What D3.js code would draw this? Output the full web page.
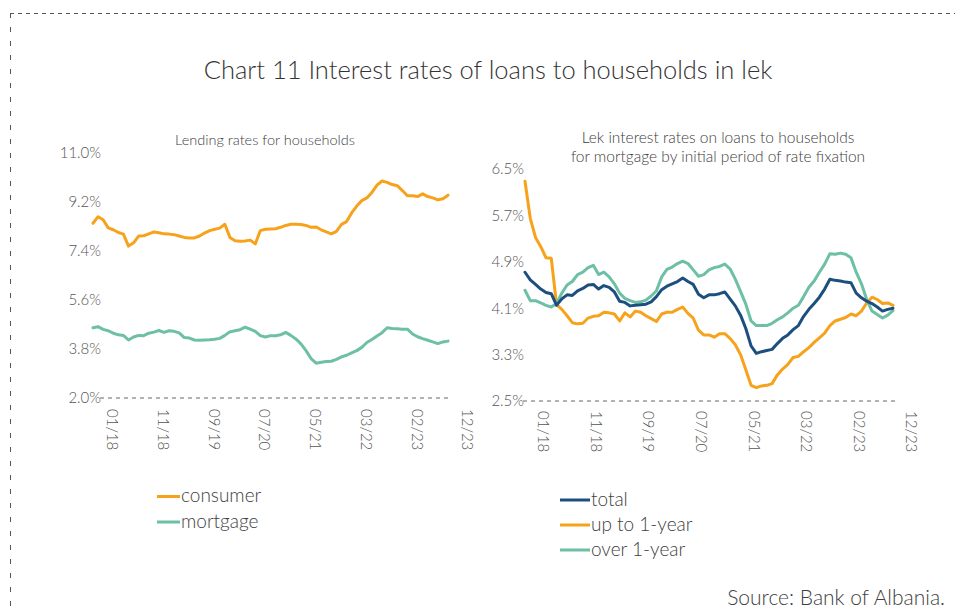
<!DOCTYPE html>
<html>
<head>
<meta charset="utf-8">
<script src="https://cdn.jsdelivr.net/npm/d3@7"></script>
<style>
  html, body { margin: 0; padding: 0; background: #fff; }
  svg text { font-family: Lato, "Open Sans", sans-serif; font-weight: 300; fill: #404040; }
</style>
</head>
<body>
<svg id="chart" width="955" height="612"></svg>
<script>
// Monthly observations, 71 points from 01/18 to 12/23
const tickIndex = [0, 10, 20, 30, 40, 50, 60, 70];
const tickLabels = ["01/18", "11/18", "09/19", "07/20", "05/21", "03/22", "02/23", "12/23"];

// Left panel: lending rates for households (%)
const consumer = [8.42, 8.66, 8.55, 8.25, 8.18, 8.08, 8.02, 7.58, 7.70, 7.95,
  7.96, 8.03, 8.10, 8.07, 8.03, 8.02, 8.00, 7.95, 7.90, 7.88,
  7.88, 7.95, 8.06, 8.15, 8.20, 8.24, 8.38, 7.90, 7.78, 7.76,
  7.77, 7.80, 7.66, 8.15, 8.20, 8.21, 8.22, 8.27, 8.34, 8.38,
  8.38, 8.37, 8.34, 8.27, 8.28, 8.18, 8.10, 8.03, 8.12, 8.38,
  8.48, 8.80, 9.05, 9.25, 9.35, 9.55, 9.82, 9.97, 9.92, 9.84,
  9.80, 9.62, 9.43, 9.43, 9.40, 9.50, 9.40, 9.35, 9.28, 9.32, 9.45];
const mortgage = [4.58, 4.62, 4.52, 4.47, 4.38, 4.32, 4.30, 4.13, 4.24, 4.30,
  4.29, 4.38, 4.42, 4.48, 4.41, 4.47, 4.45, 4.39, 4.22, 4.20,
  4.13, 4.12, 4.13, 4.14, 4.16, 4.19, 4.30, 4.43, 4.47, 4.51,
  4.60, 4.53, 4.45, 4.29, 4.24, 4.29, 4.29, 4.32, 4.41, 4.30,
  4.17, 3.99, 3.74, 3.45, 3.28, 3.31, 3.34, 3.35, 3.42, 3.51,
  3.57, 3.66, 3.74, 3.86, 4.04, 4.15, 4.28, 4.40, 4.58, 4.55,
  4.54, 4.53, 4.53, 4.35, 4.25, 4.18, 4.12, 4.06, 4.00, 4.06, 4.09];

// Right panel: mortgage rates by initial period of rate fixation (%)
const total = [4.72, 4.59, 4.51, 4.43, 4.37, 4.35, 4.15, 4.26, 4.33, 4.32,
  4.40, 4.44, 4.50, 4.51, 4.43, 4.49, 4.46, 4.38, 4.22, 4.20,
  4.14, 4.15, 4.16, 4.17, 4.21, 4.30, 4.42, 4.48, 4.52, 4.56,
  4.62, 4.56, 4.51, 4.34, 4.28, 4.33, 4.33, 4.35, 4.38, 4.26,
  4.14, 3.98, 3.75, 3.45, 3.32, 3.35, 3.37, 3.39, 3.49, 3.58,
  3.64, 3.73, 3.80, 3.96, 4.08, 4.18, 4.29, 4.43, 4.60, 4.58,
  4.57, 4.55, 4.54, 4.36, 4.28, 4.22, 4.18, 4.12, 4.05, 4.08, 4.10];
const upTo1Year = [6.29, 5.65, 5.32, 5.16, 4.97, 4.96, 4.16, 4.08, 3.97, 3.85,
  3.83, 3.84, 3.93, 3.96, 3.97, 4.03, 4.02, 4.00, 3.88, 4.02,
  3.95, 4.05, 4.03, 3.97, 3.92, 3.87, 4.00, 4.03, 4.03, 4.08,
  4.12, 4.01, 3.93, 3.72, 3.64, 3.64, 3.60, 3.66, 3.66, 3.58,
  3.47, 3.30, 3.04, 2.77, 2.73, 2.76, 2.77, 2.80, 2.95, 3.05,
  3.13, 3.25, 3.27, 3.35, 3.42, 3.51, 3.59, 3.67, 3.80, 3.88,
  3.91, 3.94, 4.00, 3.97, 4.05, 4.19, 4.29, 4.25, 4.18, 4.19, 4.15];
const over1Year = [4.41, 4.23, 4.23, 4.19, 4.15, 4.12, 4.18, 4.36, 4.50, 4.56,
  4.68, 4.72, 4.80, 4.84, 4.68, 4.72, 4.64, 4.52, 4.36, 4.27,
  4.23, 4.20, 4.21, 4.24, 4.31, 4.40, 4.64, 4.77, 4.81, 4.87,
  4.91, 4.87, 4.76, 4.65, 4.68, 4.76, 4.80, 4.82, 4.86, 4.78,
  4.60, 4.39, 4.17, 3.88, 3.80, 3.80, 3.80, 3.84, 3.90, 3.95,
  4.02, 4.10, 4.15, 4.30, 4.46, 4.57, 4.72, 4.86, 5.04, 5.03,
  5.05, 5.03, 4.97, 4.72, 4.52, 4.25, 4.05, 3.99, 3.93, 3.98, 4.06];

const leftTicks = [2.0, 3.8, 5.6, 7.4, 9.2, 11.0];
const rightTicks = [2.5, 3.3, 4.1, 4.9, 5.7, 6.5];

const ORANGE = "#f7a21b", TEAL = "#6dbfa6", NAVY = "#1c4f80";

const svg = d3.select("#chart");

// Outer dashed frame (top and left edges)
svg.append("line").attr("x1", 10).attr("x2", 955).attr("y1", 13.5).attr("y2", 13.5)
  .attr("stroke", "#555").attr("stroke-width", 1).attr("stroke-dasharray", "4,4");
svg.append("line").attr("x1", 10.5).attr("x2", 10.5).attr("y1", 13).attr("y2", 612)
  .attr("stroke", "#555").attr("stroke-width", 1).attr("stroke-dasharray", "5,9");

// Main title
svg.append("text").attr("x", 488).attr("y", 79).attr("text-anchor", "middle")
  .style("font-size", "25.5px").style("fill", "#333")
  .text("Chart 11 Interest rates of loans to households in lek");

function panel(opts) {
  const x = d3.scaleLinear().domain([0, 70]).range(opts.xRange);
  const y = d3.scaleLinear().domain(opts.yDomain).range(opts.yRange);
  const g = svg.append("g");

  // subtitle
  opts.subtitle.forEach((s, i) => {
    g.append("text").attr("x", opts.subX).attr("y", opts.subY + i * 19)
      .attr("text-anchor", "middle").style("font-size", opts.subSize + "px")
      .style("fill", "#404040").text(s);
  });

  // y axis labels
  const yAxis = d3.axisLeft(y).tickValues(opts.yTicks).tickSize(0).tickPadding(0)
    .tickFormat(d => d.toFixed(1) + "%");
  const ya = g.append("g").attr("transform", `translate(${opts.yLabelX},0)`).call(yAxis);
  ya.select(".domain").remove();
  ya.selectAll("text").style("font-size", "15px").style("fill", "#555")
    .style("font-family", "Lato, sans-serif").style("font-weight", 300);

  // dashed baseline at the bottom value
  g.append("line")
    .attr("x1", opts.baseX0).attr("x2", opts.baseX1)
    .attr("y1", y(opts.yDomain[0])).attr("y2", y(opts.yDomain[0]))
    .attr("stroke", "#666").attr("stroke-width", 1).attr("stroke-dasharray", "4,4");

  // x tick labels, rotated
  tickIndex.forEach((t, k) => {
    g.append("text")
      .attr("transform", `translate(${x(t) + opts.labelShift},${opts.xLabelY}) rotate(90)`)
      .attr("dominant-baseline", "middle")
      .style("font-size", "15px").style("fill", "#555")
      .text(tickLabels[k]);
  });

  const line = d3.line().x((d, i) => x(i)).y(d => y(d)).curve(d3.curveLinear);
  opts.series.forEach(s => {
    g.append("path").datum(s.values).attr("d", line)
      .attr("fill", "none").attr("stroke", s.color).attr("stroke-width", 3)
      .attr("stroke-linejoin", "round").attr("stroke-linecap", "round");
  });

  // legend: swatch centred on the lowercase letters, text on its baseline
  opts.series.slice().sort((a, b) => a.order - b.order).forEach((s, i) => {
    const base = opts.legY + i * opts.legStep;
    g.append("line").attr("x1", opts.legX).attr("x2", opts.legX + opts.legW)
      .attr("y1", base - 5.5).attr("y2", base - 5.5)
      .attr("stroke", s.color).attr("stroke-width", 3);
    g.append("text").attr("x", opts.legX + opts.legW + 1).attr("y", base)
      .style("font-size", "19px").style("fill", "#404040").text(s.name);
  });
}

panel({
  xRange: [93, 448], yDomain: [2, 11], yRange: [398, 153], yTicks: leftTicks,
  yLabelX: 101, baseX0: 100, baseX1: 452, labelShift: 18, xLabelY: 409,
  subtitle: ["Lending rates for households"], subX: 265, subY: 145, subSize: 14.5,
  series: [
    { name: "consumer", values: consumer, color: ORANGE, order: 0 },
    { name: "mortgage", values: mortgage, color: TEAL, order: 1 }
  ],
  legX: 157, legW: 23, legY: 502, legStep: 25.5
});

panel({
  xRange: [525, 893], yDomain: [2.5, 6.5], yRange: [401, 169], yTicks: rightTicks,
  yLabelX: 524, baseX0: 523, baseX1: 895, labelShift: 17, xLabelY: 411,
  subtitle: ["Lek interest rates on loans to households",
             "for mortgage by initial period of rate fixation"], subX: 718, subY: 143, subSize: 15.5,
  series: [
    { name: "up to 1-year", values: upTo1Year, color: ORANGE, order: 1 },
    { name: "over 1-year", values: over1Year, color: TEAL, order: 2 },
    { name: "total", values: total, color: NAVY, order: 0 }
  ],
  legX: 560, legW: 30, legY: 505.5, legStep: 25
});

// Source note
svg.append("text").attr("x", 945).attr("y", 605).attr("text-anchor", "end")
  .style("font-size", "21px").style("fill", "#404040").text("Source: Bank of Albania.");
</script>
</body>
</html>
